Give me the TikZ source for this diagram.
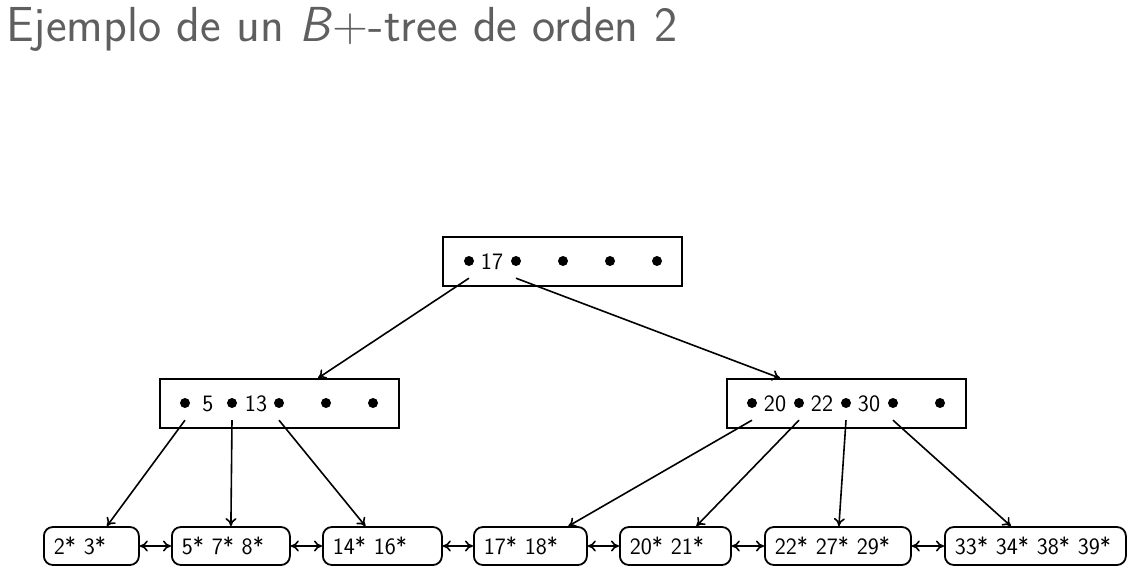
\documentclass[tikz,border=0pt]{standalone}
\usepackage{fontspec}
\usetikzlibrary{arrows.meta}
\definecolor{titlegray}{RGB}{95,95,95}
\begin{document}
\begin{tikzpicture}[x=1pt,y=-1pt,
  nodefont/.style={font=\sffamily\fontsize{23.5}{25}\selectfont},
  box/.style={draw, line width=1.8pt, minimum width=239pt, minimum height=49pt, inner sep=0pt},
  leaf/.style={draw, line width=1.8pt, rounded corners=9pt, minimum height=38pt, inner xsep=10pt, inner ysep=0pt, anchor=west, align=left, nodefont},
  key/.style={inner sep=0pt, nodefont},
  ptr/.style={circle, fill, inner sep=0pt, minimum size=10pt},
  edge/.style={line width=1.6pt, -{To[length=8pt,width=11pt]}},
  link/.style={line width=1.6pt, {To[length=8pt,width=11pt]}-{To[length=8pt,width=11pt]}}]
\useasboundingbox (0,0) rectangle (1135,575);

% title
\node[anchor=base west, inner sep=0pt, text=titlegray, font=\sffamily\fontsize{49.2}{53}\selectfont] (title) at (6,42) {Ejemplo de un \textit{B}+-tree de orden 2};

% root
\node[box] (R) at (562.5,261.5) {};
\node[ptr] (R0) at (469,261) {};
\node[key] (Rk1) at (492,262) {17};
\node[ptr] (R1) at (516,261) {};
\node[ptr] (R2) at (563,261) {};
\node[ptr] (R3) at (610,261) {};
\node[ptr] (R4) at (657,261) {};

% left internal
\node[box] (L) at (279.5,403.5) {};
\node[ptr] (L0) at (185,403) {};
\node[key] (Lk1) at (208,404) {5};
\node[ptr] (L1) at (232,403) {};
\node[key] (Lk2) at (256,404) {13};
\node[ptr] (L2) at (279,403) {};
\node[ptr] (L3) at (326,403) {};
\node[ptr] (L4) at (373,403) {};

% right internal
\node[box] (M) at (846.5,403.5) {};
\node[ptr] (M0) at (752,403) {};
\node[key] (Mk1) at (775,404) {20};
\node[ptr] (M1) at (799,403) {};
\node[key] (Mk2) at (822,404) {22};
\node[ptr] (M2) at (846,403) {};
\node[key] (Mk3) at (869,404) {30};
\node[ptr] (M3) at (893,403) {};
\node[ptr] (M4) at (940,403) {};

% leaves
\node[leaf, text width=75pt] (A) at (43,546) {2* 3*};
\node[leaf, text width=98pt] (B) at (171,546) {5* 7* 8*};
\node[leaf, text width=99pt] (C) at (322,546) {14* 16*};
\node[leaf, text width=93pt] (D) at (473,546) {17* 18*};
\node[leaf, text width=91pt] (E) at (619,546) {20* 21*};
\node[leaf, text width=126pt] (F) at (764,546) {22* 27* 29*};
\node[leaf, text width=161pt] (G) at (944,546) {33* 34* 38* 39*};

% tree edges
\draw[edge] ([yshift=-12pt]R0.south) -- ([xshift=38.5pt]L.north);
\draw[edge] ([yshift=-12pt]R1.south) -- ([xshift=-66.5pt]M.north);
\draw[edge] ([yshift=-12pt]L0.south) -- ([xshift=15.5pt]A.north);
\draw[edge] ([yshift=-12pt]L1.south) -- ([xshift=0pt]B.north);
\draw[edge] ([yshift=-12pt]L2.south) -- ([xshift=-17pt]C.north);
\draw[edge] ([yshift=-12pt]M0.south) -- ([xshift=38pt]D.north);
\draw[edge] ([yshift=-12pt]M1.south) -- ([xshift=21pt]E.north);
\draw[edge] ([yshift=-12pt]M2.south) -- ([xshift=1pt]F.north);
\draw[edge] ([yshift=-12pt]M3.south) -- ([xshift=-24.5pt]G.north);

% leaf links
\draw[link] (A.east) -- (B.west);
\draw[link] (B.east) -- (C.west);
\draw[link] (C.east) -- (D.west);
\draw[link] (D.east) -- (E.west);
\draw[link] (E.east) -- (F.west);
\draw[link] (F.east) -- (G.west);
\end{tikzpicture}
\end{document}
